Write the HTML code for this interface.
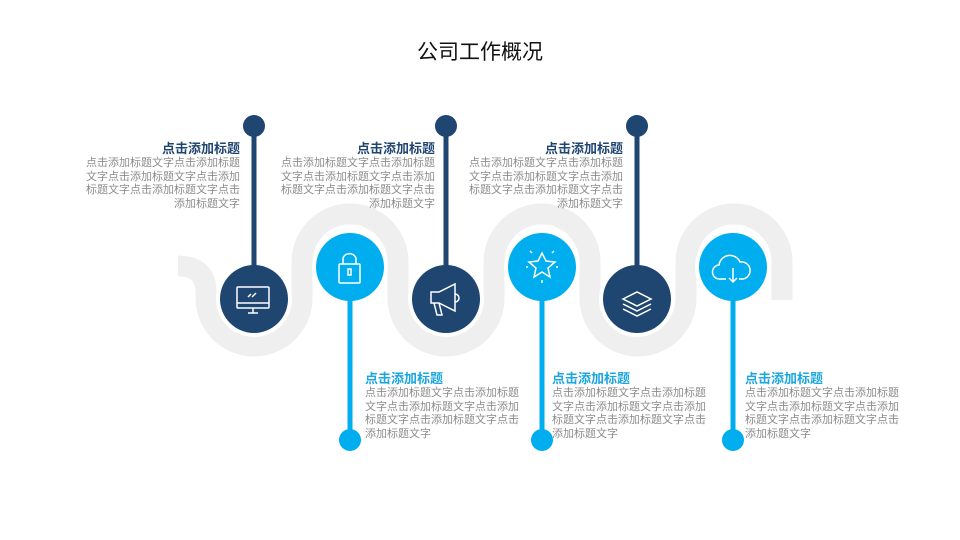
<!DOCTYPE html>
<html><head><meta charset="utf-8"><style>
body{margin:0;width:960px;height:540px;background:#fff;position:relative;overflow:hidden;font-family:"Liberation Sans","Noto Sans CJK SC",sans-serif}
.t{position:absolute;width:156px;font-size:11px;line-height:13.7px;color:#8c8c8c}
.t b{display:block;font-size:13px;line-height:16px;font-weight:bold}
.r{text-align:right}.r b{color:#1f4571}
.l b{color:#1aa6e0}
h1{position:absolute;top:36px;left:0;width:960px;text-align:center;font-size:21px;font-weight:normal;margin:0;color:#111}
</style></head><body>
<h1>公司工作概况</h1>
<svg width="960" height="540" style="position:absolute;left:0;top:0">
<path d="M178,266 Q206,266 206,292 L206,298 A48,48 0 0 0 302,298 L302,262 A48,48 0 0 1 398,262 L398,298 A48,48 0 0 0 494,298 L494,262 A48,48 0 0 1 590,262 L590,298 A48,48 0 0 0 686,298 L686,262 A48,48 0 0 1 782,262 L782,300" fill="none" stroke="#efefef" stroke-width="21"/>
<g fill="#fff">
<circle cx="254" cy="299" r="38"/><circle cx="446" cy="299" r="38"/><circle cx="637" cy="299" r="38"/>
<circle cx="350" cy="267" r="38"/><circle cx="542" cy="267" r="38"/><circle cx="733" cy="267" r="38"/>
</g>
<g fill="#1f4571" stroke="#1f4571">
<line x1="254" y1="126" x2="254" y2="298" stroke-width="5"/><circle cx="254" cy="126" r="11" stroke="none"/><circle cx="254" cy="299" r="34" stroke="none"/>
<line x1="446" y1="126" x2="446" y2="298" stroke-width="5"/><circle cx="446" cy="126" r="11" stroke="none"/><circle cx="446" cy="299" r="34" stroke="none"/>
<line x1="637" y1="126" x2="637" y2="298" stroke-width="5"/><circle cx="637" cy="126" r="11" stroke="none"/><circle cx="637" cy="299" r="34" stroke="none"/>
</g>
<g fill="#00aeef" stroke="#00aeef">
<line x1="350" y1="266" x2="350" y2="440" stroke-width="5"/><circle cx="350" cy="440" r="11" stroke="none"/><circle cx="350" cy="267" r="34" stroke="none"/>
<line x1="542" y1="266" x2="542" y2="440" stroke-width="5"/><circle cx="542" cy="440" r="11" stroke="none"/><circle cx="542" cy="267" r="34" stroke="none"/>
<line x1="733" y1="266" x2="733" y2="440" stroke-width="5"/><circle cx="733" cy="440" r="11" stroke="none"/><circle cx="733" cy="267" r="34" stroke="none"/>
</g>
<g fill="none" stroke="#fff" stroke-width="1.5">
<rect x="237" y="287" width="32" height="21" rx="1"/><line x1="237" y1="303" x2="269" y2="303"/><line x1="248" y1="313" x2="258" y2="313"/><line x1="253" y1="308" x2="253" y2="313"/><line x1="248" y1="297" x2="251" y2="294"/><line x1="252" y1="297" x2="256" y2="293"/>
<rect x="339" y="264" width="21" height="19" rx="1"/><path d="M343,264 V258 A7,7 0 0 1 356,258 V264"/><rect x="348" y="269" width="3" height="6"/>
<path d="M431,292 h8 l16,-8 v27 l-16,-8 h-8 z M434,303 l3,12 h5 l-3,-12 M455,294 a4,4 0 0 1 0,8"/>
<path d="M542,253 l4,8 9,1 -7,6 2,9 -8,-5 -8,5 2,-9 -7,-6 9,-1 z"/><path d="M530,251 l2,2 M554,251 l-2,2 M542,280 v3 M526,267 h2 M556,267 h2"/>
<path d="M623,299 l14,-7 14,7 -14,7 z M623,304 l14,7 14,-7 M623,309 l14,7 14,-7"/>
<path d="M726,279 h-6 a7,7 0 0 1 -1,-14 a11,11 0 0 1 21,-3 a8,8 0 0 1 3,17 h-4 M733,268 v14 M729,278 l4,4 4,-4"/>
</g>
</svg>
<div class="t r" style="left:84px;top:141px"><b>点击添加标题</b>点击添加标题文字点击添加标题文字点击添加标题文字点击添加标题文字点击添加标题文字点击添加标题文字</div>
<div class="t r" style="left:279px;top:141px"><b>点击添加标题</b>点击添加标题文字点击添加标题文字点击添加标题文字点击添加标题文字点击添加标题文字点击添加标题文字</div>
<div class="t r" style="left:467px;top:141px"><b>点击添加标题</b>点击添加标题文字点击添加标题文字点击添加标题文字点击添加标题文字点击添加标题文字点击添加标题文字</div>
<div class="t l" style="left:365px;top:371px"><b>点击添加标题</b>点击添加标题文字点击添加标题文字点击添加标题文字点击添加标题文字点击添加标题文字点击添加标题文字</div>
<div class="t l" style="left:552px;top:371px"><b>点击添加标题</b>点击添加标题文字点击添加标题文字点击添加标题文字点击添加标题文字点击添加标题文字点击添加标题文字</div>
<div class="t l" style="left:745px;top:371px"><b>点击添加标题</b>点击添加标题文字点击添加标题文字点击添加标题文字点击添加标题文字点击添加标题文字点击添加标题文字</div>
</body></html>
